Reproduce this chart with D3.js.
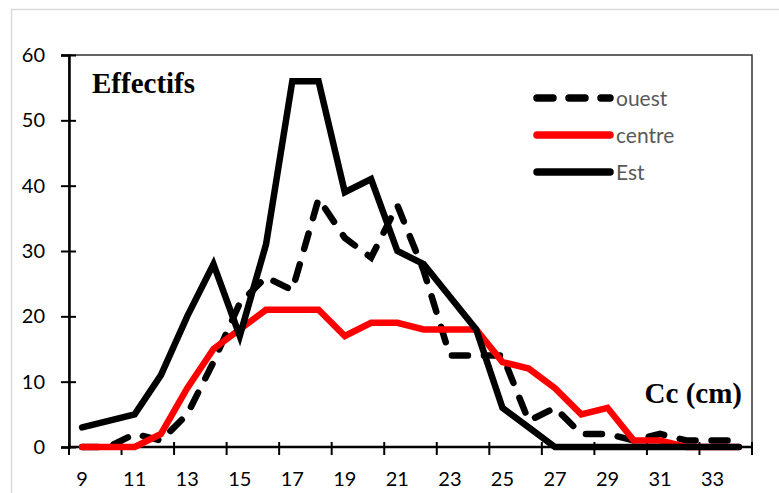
<!DOCTYPE html>
<html>
<head>
<meta charset="utf-8">
<script src="https://cdn.jsdelivr.net/npm/d3@7"></script>
<style>
  body { margin: 0; background: #fff; }
  .tick text { font-family: Lato, "Open Sans", sans-serif; font-size: 20px; fill: #000; }
  .legend text { font-family: Lato, "Open Sans", sans-serif; font-size: 21px; fill: #595959; }
  .title { font-family: "Liberation Serif", "Times New Roman", serif; font-weight: bold; font-size: 29px; fill: #000; }
</style>
</head>
<body>
<div id="chart"></div>
<script>
// classes de taille Cc (cm)
const categories = [9, 10, 11, 12, 13, 14, 15, 16, 17, 18, 19, 20, 21, 22, 23, 24, 25, 26, 27, 28, 29, 30, 31, 32, 33, 34];
const ouest  = [0, 0, 2, 1, 5, 13, 22, 26, 24, 38, 32, 29, 37, 27, 14, 14, 14, 4, 6, 2, 2, 1, 2, 1, 1, 1];
const centre = [0, 0, 0, 2, 9, 15, 18, 21, 21, 21, 17, 19, 19, 18, 18, 18, 13, 12, 9, 5, 6, 1, 1, 0, 0, 0];
const est    = [3, 4, 5, 11, 20, 28, 17, 31, 56, 56, 39, 41, 30, 28, 23, 18, 6, 3, 0, 0, 0, 0, 0, 0, 0, 0];
const seriesNames = ["ouest", "centre", "Est"];
const yTicks = [0, 10, 20, 30, 40, 50, 60];
const xLabels = [9, 11, 13, 15, 17, 19, 21, 23, 25, 27, 29, 31, 33];

const width = 779, height = 493;
const margin = { top: 55, left: 69, right: 27, bottom: 46 };

const svg = d3.select("#chart").append("svg")
    .attr("width", width)
    .attr("height", height);

// cadre gris du graphique
svg.append("rect")
    .attr("x", 11.5).attr("y", 9.5)
    .attr("width", 820).attr("height", 520)
    .attr("fill", "none")
    .attr("stroke", "#d9d9d9")
    .attr("stroke-width", 1.5);

const xScale = d3.scaleBand()
    .domain(categories)
    .range([margin.left, width - margin.right])
    .padding(0);

const yScale = d3.scaleLinear()
    .domain([0, 60])
    .range([height - margin.bottom, margin.top]);

// plot area border
svg.append("rect")
    .attr("x", margin.left).attr("y", margin.top)
    .attr("width", width - margin.right - margin.left)
    .attr("height", height - margin.bottom - margin.top)
    .attr("fill", "none")
    .attr("stroke", "#333")
    .attr("stroke-width", 1.5);

// Y axis
const yAxis = svg.append("g")
    .attr("transform", "translate(" + margin.left + ",0)")
    .call(d3.axisLeft(yScale).tickValues(yTicks).tickSize(8).tickPadding(16));
yAxis.select(".domain").attr("stroke", "#000").attr("stroke-width", 2.5);
yAxis.selectAll(".tick line").attr("x1", 7).attr("stroke-width", 2);

// X axis labels (every other class)
const xAxis = svg.append("g")
    .attr("transform", "translate(0," + yScale(0) + ")")
    .call(d3.axisBottom(xScale).tickValues(xLabels).tickSize(0).tickPadding(25));
xAxis.select(".domain").remove();

// x tick marks between classes, every two classes
const tickPos = categories.filter((c, i) => i % 2 === 0).map(c => xScale(c));
tickPos.push(xScale.range()[1]);
svg.append("g").selectAll("line")
    .data(tickPos)
    .enter().append("line")
    .attr("x1", d => d).attr("x2", d => d)
    .attr("y1", yScale(0) - 5).attr("y2", yScale(0) + 8)
    .attr("stroke", "#000").attr("stroke-width", 2);

svg.append("line")
    .attr("x1", margin.left).attr("x2", width - margin.right)
    .attr("y1", yScale(0)).attr("y2", yScale(0))
    .attr("stroke", "#000").attr("stroke-width", 2.5);

// series
const series = [
  { name: seriesNames[0], values: ouest, color: "#000", dash: "16,16" },
  { name: seriesNames[1], values: centre, color: "#ff0000", dash: null },
  { name: seriesNames[2], values: est, color: "#000", dash: null }
];

const line = d3.line()
    .x((d, i) => xScale(categories[i]) + xScale.bandwidth() / 2)
    .y(d => yScale(d));

svg.append("g").selectAll("path")
    .data(series)
    .enter().append("path")
    .attr("d", d => line(d.values))
    .attr("fill", "none")
    .attr("stroke", d => d.color)
    .attr("stroke-width", 6.5)
    .attr("stroke-linecap", "round")
    .attr("stroke-linejoin", "miter")
    .attr("stroke-dasharray", d => d.dash);

// titles
svg.append("text")
    .attr("class", "title")
    .attr("x", 92).attr("y", 93)
    .text("Effectifs");

svg.append("text")
    .attr("class", "title")
    .attr("x", 742).attr("y", 403)
    .attr("text-anchor", "end")
    .text("Cc (cm)");

// legend
const legend = svg.append("g").attr("class", "legend")
    .selectAll("g")
    .data(series)
    .enter().append("g")
    .attr("transform", (d, i) => "translate(0," + (98 + i * 37) + ")");

legend.append("line")
    .attr("x1", 537).attr("x2", 610)
    .attr("stroke", d => d.color)
    .attr("stroke-width", 7.5)
    .attr("stroke-linecap", "round")
    .attr("stroke-dasharray", d => d.dash ? "16,16" : null);

legend.append("text")
    .attr("x", 616).attr("y", 8)
    .text(d => d.name);
</script>
</body>
</html>
